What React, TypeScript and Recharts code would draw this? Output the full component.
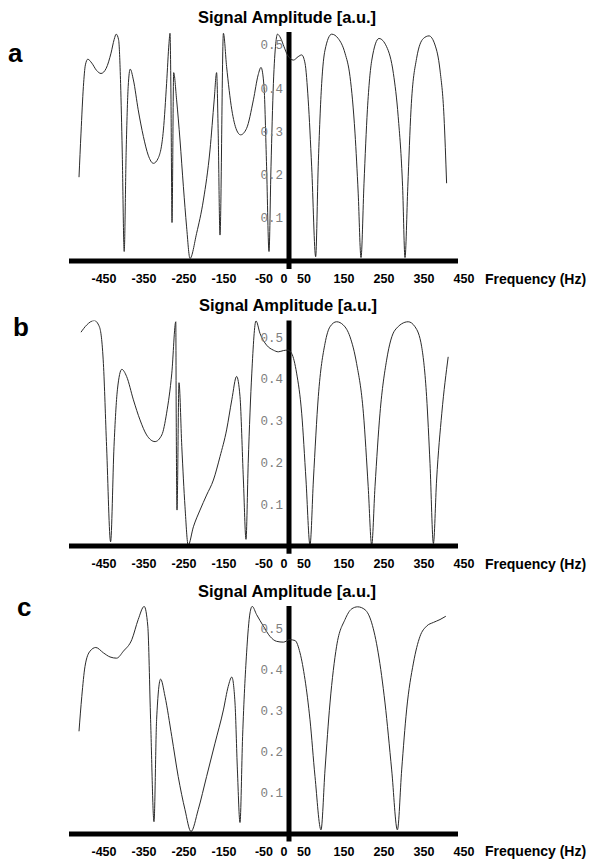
import React from "react";
import { LineChart, Line, XAxis, YAxis, ReferenceLine, ReferenceDot } from "recharts";

// x tick labels (Hz) and y tick labels (a.u.)
const xTicks = [-450, -350, -250, -150, -50, 0, 50, 150, 250, 350, 450];
const yTicks = [0.1, 0.2, 0.3, 0.4, 0.5];

// Panel a
const freqA = [-525, -520, -514, -509, -503, -493, -481, -470, -457, -445, -437, -432, -426, -421, -417, -412, -407, -402, -397, -389, -377, -364, -352, -339, -327, -314, -306, -300, -297.5, -295, -292.5, -288.3, -281, -272.5, -264, -256, -247.5, -231, -214, -197.5, -187, -181, -177, -172.5, -164, -156, -143, -131, -121, -106, -89, -77, -70, -62.5, -56, -50, -45, -39, -33, -29, -21, -12.5, -4, 11, 23, 31.7, 40, 48, 56.7, 66.7, 73, 81.7, 90, 106.7, 123, 140, 152.5, 165, 173, 180, 187.5, 196, 207, 225, 244, 261, 273, 284, 290, 297, 305, 319, 336, 350, 365, 377.5, 387.5, 394];
const ampA = [0.194, 0.296, 0.404, 0.454, 0.467, 0.458, 0.441, 0.434, 0.446, 0.481, 0.513, 0.525, 0.512, 0.411, 0.257, 0.022, 0.257, 0.404, 0.444, 0.419, 0.35, 0.288, 0.245, 0.226, 0.238, 0.303, 0.411, 0.504, 0.527, 0.373, 0.089, 0.436, 0.373, 0.28, 0.172, 0.079, 0.006, 0.064, 0.141, 0.257, 0.373, 0.436, 0.296, 0.06, 0.527, 0.45, 0.35, 0.303, 0.292, 0.307, 0.373, 0.431, 0.448, 0.404, 0.218, 0.022, 0.218, 0.411, 0.504, 0.525, 0.516, 0.496, 0.477, 0.465, 0.473, 0.477, 0.458, 0.373, 0.218, 0.01, 0.218, 0.411, 0.488, 0.525, 0.515, 0.481, 0.427, 0.296, 0.157, 0.008, 0.18, 0.35, 0.465, 0.515, 0.496, 0.434, 0.334, 0.172, 0.008, 0.172, 0.35, 0.469, 0.515, 0.521, 0.5, 0.442, 0.334, 0.18];

// Panel b
const freqB = [-520, -506, -487, -474, -464, -456, -446, -437.5, -429, -418, -406, -389, -372.5, -356, -335, -318, -306, -293, -283, -282, -280, -275, -268, -260, -252, -239, -222.5, -206, -189, -172.5, -156, -143, -131, -122.5, -114, -107.5, -102, -93, -82.5, -72.5, -56, -39, -26.7, -14, -3, 6.7, 19, 31.7, 42.5, 52.5, 61, 73.3, 90, 102.5, 119, 136, 152.5, 169, 186, 198, 206.7, 215, 227.5, 244, 265, 298, 315, 331.7, 344, 352.5, 361, 369, 382, 398];
const ampB = [0.512, 0.529, 0.54, 0.525, 0.437, 0.238, 0.01, 0.238, 0.374, 0.423, 0.406, 0.35, 0.302, 0.266, 0.25, 0.266, 0.318, 0.414, 0.537, 0.318, 0.086, 0.391, 0.238, 0.094, 0.002, 0.046, 0.086, 0.122, 0.158, 0.214, 0.278, 0.35, 0.406, 0.358, 0.158, 0.016, 0.198, 0.414, 0.539, 0.509, 0.481, 0.469, 0.465, 0.468, 0.469, 0.461, 0.414, 0.318, 0.158, 0.002, 0.158, 0.358, 0.485, 0.525, 0.537, 0.529, 0.501, 0.437, 0.318, 0.142, 0.002, 0.142, 0.318, 0.445, 0.517, 0.537, 0.525, 0.477, 0.358, 0.198, 0.006, 0.158, 0.318, 0.453];

// Panel c
const freqC = [-525, -518, -510, -497.5, -483, -464, -447.5, -431, -414, -393, -377, -362, -353, -346, -337.5, -331, -321, -310, -293, -277, -260, -245, -227, -206, -185, -164, -152, -143, -135, -129, -122.5, -116, -106, -97.5, -92, -81, -64, -47.5, -31, -14, 2, 15, 27.5, 40, 52.5, 65, 80, 90, 102.5, 119, 140, 156.7, 171.7, 190, 206.7, 223, 240, 256.7, 271, 281.7, 294, 311, 327.5, 344, 361, 377.5, 392];
const ampC = [0.25, 0.335, 0.408, 0.445, 0.454, 0.441, 0.431, 0.428, 0.445, 0.473, 0.522, 0.554, 0.506, 0.278, 0.03, 0.278, 0.377, 0.335, 0.237, 0.14, 0.059, 0.006, 0.059, 0.14, 0.221, 0.302, 0.359, 0.382, 0.319, 0.156, 0.028, 0.237, 0.441, 0.538, 0.554, 0.534, 0.506, 0.481, 0.469, 0.467, 0.473, 0.471, 0.441, 0.376, 0.278, 0.14, 0.01, 0.156, 0.319, 0.457, 0.522, 0.548, 0.553, 0.546, 0.514, 0.441, 0.319, 0.156, 0.01, 0.156, 0.302, 0.416, 0.481, 0.506, 0.515, 0.522, 0.53];

const toRows = (f: number[], a: number[]) => f.map((x, i) => ({ f: x, v: a[i] }));

const FONT = "Arial, 'Liberation Sans', Helvetica, sans-serif";
const MONO = "'Courier New', 'Liberation Mono', monospace";

type PanelProps = {
  rows: { f: number; v: number }[];
  top: number;
  mTop: number;
  mBottom: number;
};

function Panel({ rows, top, mTop, mBottom }: PanelProps) {
  return (
    <div style={{ position: "absolute", left: 0, top: 0 }}>
      <LineChart
        width={600}
        height={859}
        data={rows}
        margin={{ top: mTop, right: 142, bottom: mBottom, left: 69 }}
      >
        <XAxis
          type="number"
          dataKey="f"
          domain={[-550, 422.5]}
          allowDataOverflow
          ticks={xTicks}
          interval={0}
          height={20}
          tickSize={0}
          tickMargin={13.5}
          axisLine={{ stroke: "#000", strokeWidth: 5 }}
          tickLine={false}
          tick={{ fill: "#000", fontSize: 12.5, fontWeight: "bold", fontFamily: FONT, dx: -5 }}
        />
        <YAxis type="number" dataKey="v" domain={[0, top]} allowDataOverflow hide />
        {yTicks.map((t) => (
          <ReferenceDot
            key={t}
            x={0}
            y={t}
            r={0}
            fill="none"
            stroke="none"
            label={{
              value: t.toFixed(1),
              position: "left",
              offset: 6,
              fill: "#808080",
              fontSize: 12.5,
              fontFamily: MONO,
            }}
          />
        ))}
        <ReferenceLine
          segment={[
            { x: 0, y: -0.0185 },
            { x: 0, y: top },
          ]}
          ifOverflow="visible"
          stroke="#000"
          strokeWidth={5}
        />
        <Line
          type="monotone"
          dataKey="v"
          stroke="#2a2a2a"
          strokeWidth={1}
          dot={false}
          isAnimationActive={false}
        />
      </LineChart>
    </div>
  );
}

export default function App() {
  const title = "Signal Amplitude [a.u.]";
  const xlabel = "Frequency (Hz)";
  return (
    <div style={{ position: "absolute", left: 0, top: 0, width: 600, height: 859, background: "#fff", overflow: "hidden" }}>
      <Panel rows={toRows(freqA, ampA)} top={0.53} mTop={32} mBottom={578} />
      <Panel rows={toRows(freqB, ampB)} top={0.54} mTop={320.5} mBottom={293} />
      <Panel rows={toRows(freqC, ampC)} top={0.555} mTop={606} mBottom={5} />
      <svg
        width={600}
        height={859}
        style={{ position: "absolute", left: 0, top: 0, pointerEvents: "none" }}
      >
        <g fontFamily={FONT} fontWeight="bold" fill="#000">
          <text x={287} y={23} fontSize={16.5} textAnchor="middle">{title}</text>
          <text x={288} y={310.5} fontSize={16.5} textAnchor="middle">{title}</text>
          <text x={287} y={596.5} fontSize={16.5} textAnchor="middle">{title}</text>
          <text x={8} y={62} fontSize={26}>a</text>
          <text x={13} y={336} fontSize={26}>b</text>
          <text x={17} y={616} fontSize={26}>c</text>
          <text x={485} y={283.5} fontSize={14}>{xlabel}</text>
          <text x={485} y={568.5} fontSize={14}>{xlabel}</text>
          <text x={485} y={856} fontSize={14}>{xlabel}</text>
        </g>
      </svg>
    </div>
  );
}
